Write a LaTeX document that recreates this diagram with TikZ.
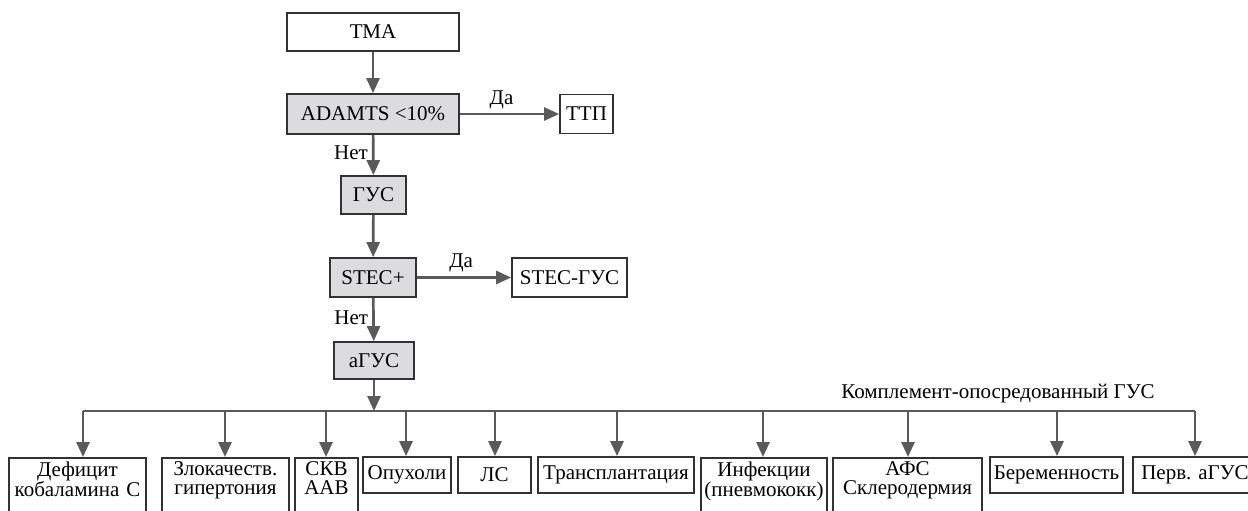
\documentclass[tikz,border=0pt]{standalone}
\usepackage{fontspec}
\setmainfont{Liberation Serif}
\usetikzlibrary{arrows.meta}
\definecolor{ln}{RGB}{90,90,90}
\definecolor{bd}{RGB}{50,50,50}
\definecolor{gf}{RGB}{220,220,222}
\newcommand{\deepstrut}{\rule[-40pt]{0pt}{0pt}}
\begin{document}
\begin{tikzpicture}[x=1pt,y=-1pt,
  every node/.style={font=\fontsize{21}{19}\selectfont},
  bx/.style={draw=bd,line width=1.8pt,inner sep=0pt,anchor=center},
  gbx/.style={bx,fill=gf},
  tbx/.style={draw=bd,line width=1.8pt,inner xsep=0pt,inner ysep=4pt,align=center,anchor=north},
  arr/.style={draw=ln,line width=2.7pt,-{Triangle[length=15pt,width=13pt]}},
  ln/.style={draw=ln,line width=2.7pt},
  lbl/.style={inner sep=0pt}]
\clip (0,0) rectangle (1248,511);
\fill[white] (0,0) rectangle (1248,511);
% top chain
\node[bx,minimum width=172pt,minimum height=38pt] (tma) at (373,32) {ТМА};
\node[gbx,minimum width=172pt,minimum height=40pt] (adam) at (373,114) {ADAMTS <10\%};
\node[bx,minimum width=53pt,minimum height=39pt] (ttp) at (586.5,114) {ТТП};
\node[gbx,minimum width=65pt,minimum height=38pt] (gus) at (373.5,195) {ГУС};
\node[gbx,minimum width=86pt,minimum height=39pt] (stec) at (373,277.5) {STEC+};
\node[bx,minimum width=115pt,minimum height=39pt] (stecg) at (569.5,277.5) {STEC-ГУС};
\node[gbx,minimum width=80pt,minimum height=37pt] (agus) at (374,360.5) {аГУС};
\draw[arr] (tma) -- (adam);
\draw[arr] (adam) -- (ttp) node[lbl,pos=0.42,above=4pt] {Да};
\draw[arr] (adam) -- (gus) node[lbl,pos=0.45,left=4pt] {Нет};
\draw[arr] (gus) -- (stec);
\draw[arr] (stec) -- (stecg) node[lbl,pos=0.47,above=4pt] {Да};
\draw[arr] (stec) -- (agus) node[lbl,pos=0.45,left=4pt] {Нет};
% bus
\coordinate (j0) at (374,411);
\coordinate (j1) at (83,411);
\coordinate (j2) at (225,411);
\coordinate (j3) at (326,411);
\coordinate (j4) at (406,411);
\coordinate (j5) at (495,411);
\coordinate (j6) at (617,411);
\coordinate (j7) at (763,411);
\coordinate (j8) at (908,411);
\coordinate (j9) at (1057,411);
\coordinate (j10) at (1195,411);
\draw[arr] (agus) -- (j0);
\draw[ln] (j1) -- (j10);
\node[lbl,anchor=base] (kom) at (998,398) {Комплемент-опосредованный ГУС};
% bottom boxes
\node[tbx,text width=137pt] (b1) at (77.5,457) {Дефицит\\кобаламина С\deepstrut};
\node[tbx,text width=127pt] (b2) at (225.5,457) {Злокачеств.\\гипертония\deepstrut};
\node[tbx,text width=63pt] (b3) at (326.5,457) {СКВ\\ААВ\deepstrut};
\node[bx,minimum width=88pt,minimum height=36pt] (b4) at (407,475) {Опухоли};
\node[bx,minimum width=73pt,minimum height=36pt] (b5) at (494.5,475) {ЛС};
\node[bx,minimum width=156pt,minimum height=36pt] (b6) at (616,475) {Трансплантация};
\node[tbx,text width=126pt] (b7) at (764,457) {Инфекции\\(пневмококк)\deepstrut};
\node[tbx,text width=149pt] (b8) at (907.5,457) {АФС\\Склеродермия\deepstrut};
\node[bx,minimum width=133pt,minimum height=36pt] (b9) at (1056.5,475) {Беременность};
\node[bx,minimum width=124pt,minimum height=36pt] (b10) at (1195,475) {Перв. аГУС};
\foreach \i in {1,...,10} { \draw[arr] (j\i) -- (j\i |- b\i.north); }
\end{tikzpicture}
\end{document}
